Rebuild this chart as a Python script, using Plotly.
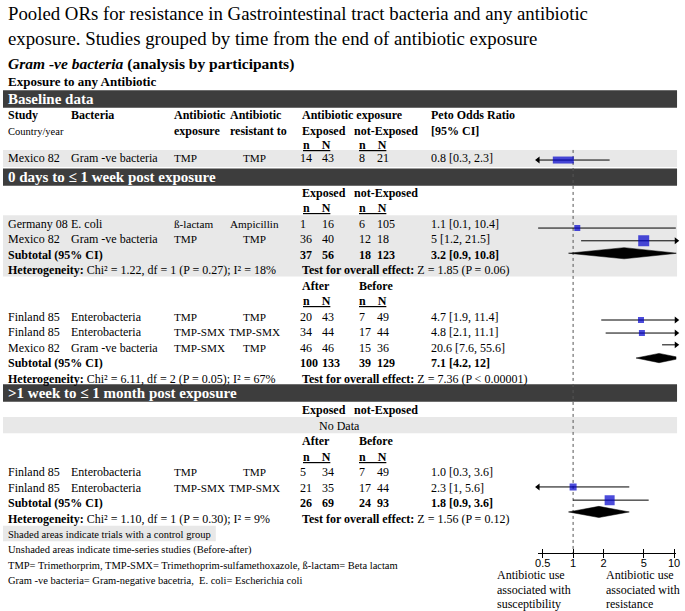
import numpy as np
import plotly.graph_objects as go

# ---------------- data ----------------
title_lines = [
    "Pooled ORs for resistance in Gastrointestinal tract bacteria and any antibiotic",
    "exposure. Studies grouped by time from the end of antibiotic exposure",
]
subtitle = "<i>Gram -ve bacteria</i> (analysis by participants)"
exposure_title = "Exposure to any Antibiotic"
section_names = [
    "Baseline data",
    "0 days to \u2264 1 week post exposure",
    ">1 week to \u2264 1 month post exposure",
]

studies = ["Mexico 82", "Germany 08", "Mexico 82", "Finland 85", "Finland 85",
           "Mexico 82", "Finland 85", "Finland 85"]
bacteria = ["Gram -ve bacteria", "E. coli", "Gram -ve bacteria", "Enterobacteria",
            "Enterobacteria", "Gram -ve bacteria", "Enterobacteria", "Enterobacteria"]
abx_exposure = ["TMP", "\u00df-lactam", "TMP", "TMP", "TMP-SMX", "TMP-SMX", "TMP", "TMP-SMX"]
abx_resistant = ["TMP", "Ampicillin", "TMP", "TMP", "TMP-SMX", "TMP", "TMP", "TMP-SMX"]
exp_n = [14, 1, 36, 20, 34, 46, 5, 21]
exp_N = [43, 16, 40, 43, 44, 46, 34, 35]
ctl_n = [8, 6, 12, 7, 17, 15, 7, 17]
ctl_N = [21, 105, 18, 49, 44, 36, 49, 44]
or_est = [0.8, 1.1, 5, 4.7, 4.8, 20.6, 1.0, 2.3]
or_lo = [0.3, 0.1, 1.2, 1.9, 2.1, 7.6, 0.3, 1]
or_hi = [2.3, 10.4, 21.5, 11.4, 11.1, 55.6, 3.6, 5.6]
or_label = ["0.8 [0.3, 2.3]", "1.1 [0.1, 10.4]", "5 [1.2, 21.5]", "4.7 [1.9, 11.4]",
            "4.8 [2.1, 11.1]", "20.6 [7.6, 55.6]", "1.0 [0.3, 3.6]", "2.3 [1, 5.6]"]

sub_exp_n = [37, 100, 26]
sub_exp_N = [56, 133, 69]
sub_ctl_n = [18, 39, 24]
sub_ctl_N = [123, 129, 93]
sub_est = [3.2, 7.1, 1.8]
sub_lo = [0.9, 4.2, 0.9]
sub_hi = [10.8, 12, 3.6]
sub_label = ["3.2 [0.9, 10.8]", "7.1 [4.2, 12]", "1.8 [0.9, 3.6]"]
het_chi2 = ["1.22", "6.11", "1.10"]
het_df = [1, 2, 1]
het_p = ["0.27", "0.05", "0.30"]
het_i2 = [18, 67, 9]
z_val = ["1.85", "7.36", "1.56"]
z_p = ["= 0.06", "< 0.00001", "= 0.12"]

tick_vals = [0.5, 1, 2, 5, 10]
tick_text = ["0.5", "1", "2", "5", "10"]
notes = [
    "Shaded areas indicate trials with a control group",
    "Unshaded areas indicate time-series studies (Before-after)",
    "TMP= Trimethorprim, TMP-SMX= Trimethoprim-sulfamethoxazole, \u00df-lactam= Beta lactam",
    "Gram -ve bacteria= Gram-negative bacetria,  E. coli= Escherichia coli",
]
left_caption = ["Antibiotic use", "associated with", "susceptibility"]
right_caption = ["Antibiotic use", "associated with", "resistance"]

# ---------------- layout / style ----------------
W, H = 685, 611
ROW0, ROW_H = 115, 15.53          # pixel of row 0, pixels per row
SERIF = "Liberation Serif, Times New Roman, DejaVu Serif, serif"
SANS = "Liberation Sans, Arial, sans-serif"
DARK = "#3d3d3d"
LIGHT = "#e8e8e8"
BLUE = "#0000cc"
XMIN, XMAX = 0.45, 10.5
AX_L, AX_R = 540.6, 680.2         # pixel extent of forest x axis

study_row = [2.8, 7, 8, 13, 14, 15, 23, 24]
mark_row = [2.9, 7.28, 8.1, 13.2, 14.04, 14.8, 23.95, 24.8]
sub_row = [9, 16, 25]
sub_mark_row = [8.9, 15.65, 25.56]
het_row = [10, 17, 26]
section_row = [-1.03, 4, 17.9]
mark_size = [15, 6, 11, 6, 6, 6, 7, 10]
mark_rect = [True] + [False] * 7
arrow_left = [True, False, False, False, False, False, True, False]
diamond_half = [0.36, 0.3, 0.36]

COL = dict(study=3, bact=67, abx=171, res=254, en=298, eN=320, cn=358, cN=376, orr=430)


def row(pix):
    return (pix - ROW0) / ROW_H


fig = go.Figure()


def txt(x, r, s, size=12, color="black", anchor="left"):
    fig.add_annotation(
        x=x / W, xref="paper", y=r, yref="y", text=s, showarrow=False,
        xanchor=anchor, yanchor="middle", align="left",
        font=dict(family=SERIF, size=size, color=color),
    )


# titles
txt(3, row(13), title_lines[0], size=18.8)
txt(3, row(38), title_lines[1], size=18.8)
txt(3, row(64), f"<b>{subtitle}</b>", size=15.5)
txt(3, row(81), f"<b>{exposure_title}</b>", size=13)

# shaded blocks
for y0, y1, x1 in [(2.25, 3.35, 681), (6.45, 10.4, 681), (19.45, 20.5, 681), (26.45, 27.45, 215)]:
    fig.add_shape(type="rect", xref="paper", yref="y", x0=0, x1=x1 / W, y0=y0, y1=y1,
                  fillcolor=LIGHT, line_width=0, layer="below")
for r, name in zip(section_row, section_names):
    fig.add_shape(type="rect", xref="paper", yref="y", x0=0, x1=681 / W, y0=r - 0.56, y1=r + 0.56,
                  fillcolor=DARK, line_width=0, layer="below")
    txt(3, r, f"<b>{name}</b>", size=15, color="white")

# column headers
txt(COL["study"], 0, "<b>Study</b>")
txt(COL["bact"], 0, "<b>Bacteria</b>")
txt(COL["abx"], 0, "<b>Antibiotic</b>")
txt(227, 0, "<b>Antibiotic</b>")
txt(300, 0, "<b>Antibiotic exposure</b>")
txt(COL["orr"], 0, "<b>Peto Odds Ratio</b>")
txt(COL["study"], 1.05, "Country/year", size=10.5)
txt(COL["abx"], 1, "<b>exposure</b>")
txt(227, 1, "<b>resistant to</b>")
txt(300, 1, "<b>Exposed</b>")
txt(353, 1, "<b>not-Exposed</b>")
txt(COL["orr"], 1, "<b>[95% CI]</b>")

nN = "<b><u>n\u00a0\u00a0\u00a0\u00a0N</u></b>"
for r in [1.9, 6, 12, 22]:
    txt(301, r, nN)
    txt(COL["cn"], r, nN)
for r in [5, 19]:
    txt(300, r, "<b>Exposed</b>")
    txt(353, r, "<b>not-Exposed</b>")
for r in [11, 21]:
    txt(300, r, "<b>After</b>")
    txt(COL["cn"], r, "<b>Before</b>")
txt(340, 20, "No Data", anchor="center")

# study rows
for i, r in enumerate(study_row):
    txt(COL["study"], r, studies[i])
    txt(COL["bact"], r, bacteria[i])
    txt(COL["abx"], r, abx_exposure[i], size=11.2)
    txt(COL["res"], r, abx_resistant[i], size=11.2, anchor="center")
    txt(COL["en"], r, str(exp_n[i]))
    txt(COL["eN"], r, str(exp_N[i]))
    txt(COL["cn"], r, str(ctl_n[i]))
    txt(COL["cN"], r, str(ctl_N[i]))
    txt(COL["orr"], r, or_label[i])

# subtotal + heterogeneity rows
for k in range(3):
    r = sub_row[k]
    txt(COL["study"], r, "<b>Subtotal (95% CI)</b>")
    txt(COL["en"], r, f"<b>{sub_exp_n[k]}</b>")
    txt(COL["eN"], r, f"<b>{sub_exp_N[k]}</b>")
    txt(COL["cn"], r, f"<b>{sub_ctl_n[k]}</b>")
    txt(COL["cN"], r, f"<b>{sub_ctl_N[k]}</b>")
    txt(COL["orr"], r, f"<b>{sub_label[k]}</b>")
    txt(COL["study"], het_row[k],
        f"<b>Heterogeneity:</b> Chi\u00b2 = {het_chi2[k]}, df = {het_df[k]} (P = {het_p[k]}); I\u00b2 = {het_i2[k]}%")
    txt(300, het_row[k], f"<b>Test for overall effect:</b> Z = {z_val[k]} (P {z_p[k]})")

# notes
for j, note in enumerate(notes):
    txt(3, 27 + j, note, size=10.5)

# ---------------- forest plot ----------------
fig.add_trace(go.Scatter(x=[1, 1], y=[2.25, row(553)], mode="lines",
                         line=dict(color="#555", width=1, dash="dot"), hoverinfo="skip"))

ci_x, ci_y = [], []
for i in range(len(or_est)):
    ci_x += [max(or_lo[i], XMIN), min(or_hi[i], XMAX), None]
    ci_y += [mark_row[i], mark_row[i], None]
fig.add_trace(go.Scatter(x=ci_x, y=ci_y, mode="lines", line=dict(color="black", width=1)))

# arrowheads where the interval runs off the axis
ax_x, ax_y, ax_sym = [], [], []
for i in range(len(or_est)):
    if arrow_left[i]:
        ax_x.append(XMIN); ax_y.append(mark_row[i]); ax_sym.append("triangle-left")
    if or_hi[i] > XMAX:
        ax_x.append(XMAX); ax_y.append(mark_row[i]); ax_sym.append("triangle-right")
fig.add_trace(go.Scatter(x=ax_x, y=ax_y, mode="markers", cliponaxis=False,
                         marker=dict(symbol=ax_sym, size=6, color="black")))

fig.add_trace(go.Scatter(
    x=or_est, y=mark_row, mode="markers",
    marker=dict(
        symbol=["line-ew" if rect else "square" for rect in mark_rect],
        size=mark_size, color=BLUE,
        line=dict(color=BLUE, width=[7 if rect else 0 for rect in mark_rect]),
    ),
))

for k in range(3):
    r, h = sub_mark_row[k], diamond_half[k]
    fig.add_trace(go.Scatter(
        x=[sub_lo[k], sub_est[k], sub_hi[k], sub_est[k], sub_lo[k]],
        y=[r, r - h, r, r + h, r], mode="lines", fill="toself",
        fillcolor="black", line=dict(color="black", width=0.5),
    ))

axis_pos = 1 - 553 / H
xr = [np.log10(XMIN), np.log10(XMAX)]
fig.update_layout(
    width=W, height=H, margin=dict(l=0, r=0, t=0, b=0),
    paper_bgcolor="white", plot_bgcolor="rgba(0,0,0,0)", showlegend=False,
    xaxis=dict(type="log", range=xr, domain=[AX_L / W, AX_R / W], anchor="free", position=axis_pos,
               showgrid=False, zeroline=False, showline=True, linecolor="black", linewidth=1,
               ticks="inside", ticklen=4, tickcolor="black", tickvals=tick_vals, ticktext=tick_text,
               tickfont=dict(family=SANS, size=11, color="black")),
    xaxis2=dict(type="log", range=xr, domain=[AX_L / W, AX_R / W], anchor="free", position=axis_pos,
                overlaying="x", showgrid=False, zeroline=False, showline=False,
                ticks="outside", ticklen=4, tickcolor="black", tickvals=tick_vals, showticklabels=False),
    yaxis=dict(range=[row(H), row(0)], domain=[0, 1], visible=False, showgrid=False, zeroline=False),
)
# invisible point so the second x axis (outside ticks) is drawn
fig.add_trace(go.Scatter(x=[1], y=[row(H) + 5], xaxis="x2", mode="markers", marker_opacity=0))

for x0, lines in [(497, left_caption), (607, right_caption)]:
    for j, line in enumerate(lines):
        fig.add_annotation(x=x0 / W, xref="paper", y=1 - (575 + 14.5 * j) / H, yref="paper",
                           text=line, showarrow=False, xanchor="left", yanchor="middle",
                           font=dict(family=SERIF, size=12, color="black"))

# page body has an 8px default margin; drop it so the figure sits at the window origin
fig.write_html("out.html", config={"displayModeBar": False},
               post_script="document.body.style.margin='0px';")
